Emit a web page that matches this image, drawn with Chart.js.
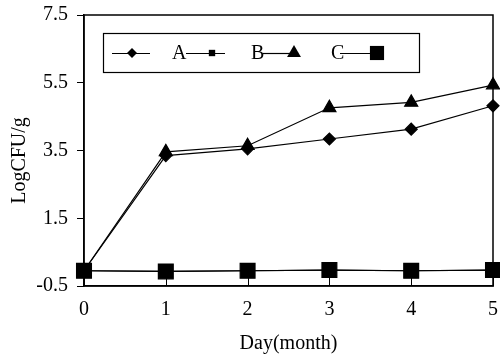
<!DOCTYPE html>
<html>
<head>
<meta charset="utf-8">
<script src="https://cdn.jsdelivr.net/npm/chart.js@4.4.0/dist/chart.umd.min.js"></script>
<style>
    html, body { margin: 0; padding: 0; background: #fff; }
    #wrap { width: 500px; height: 356px; }
</style>
</head>
<body>
<div id="wrap"><canvas id="chart"></canvas></div>
<script>
// Data
const days = [0, 1, 2, 3, 4, 5];
const seriesA = [-0.05, 3.35, 3.55, 3.84, 4.13, 4.82];     // diamonds
const seriesB = [-0.05, -0.07, -0.05, -0.03, -0.05, -0.03]; // small squares (under big squares)
const seriesC = [-0.05, 3.46, 3.64, 4.76, 4.92, 5.43];     // triangles
const seriesD = [-0.05, -0.07, -0.05, -0.03, -0.05, -0.03]; // big squares
const legendLabels = ['A', 'B', 'C', ''];
const yTicks = [-0.5, 1.5, 3.5, 5.5, 7.5];

const serif = '"Liberation Serif", "Times New Roman", serif';

function pts(values) {
    return days.map((d, i) => ({ x: d, y: values[i] }));
}

// simple marker drawing used by the legend
function drawMarker(ctx, style, x, y, r) {
    ctx.beginPath();
    if (style === 'rectRot') {
        ctx.moveTo(x, y - r); ctx.lineTo(x + r, y); ctx.lineTo(x, y + r); ctx.lineTo(x - r, y);
    } else if (style === 'triangle') {
        ctx.moveTo(x, y - r); ctx.lineTo(x + r * 0.866, y + r / 2); ctx.lineTo(x - r * 0.866, y + r / 2);
    } else {
        const s = r * Math.SQRT1_2;
        ctx.rect(x - s, y - s, 2 * s, 2 * s);
    }
    ctx.closePath();
    ctx.fill();
}

// frame, inward x ticks and boxed legend
const framePlugin = {
    id: 'frame',
    afterDraw(chart) {
        const ctx = chart.ctx;
        const a = chart.chartArea;
        const xs = chart.scales.x;
        ctx.save();
        ctx.strokeStyle = '#000';
        ctx.fillStyle = '#000';
        ctx.lineWidth = 1.5;
        ctx.strokeRect(a.left, a.top, a.right - a.left, a.bottom - a.top);
        ctx.lineWidth = 1;
        days.forEach(d => {
            const px = Math.round(xs.getPixelForValue(d)) + 0.5;
            ctx.beginPath();
            ctx.moveTo(px, a.bottom);
            ctx.lineTo(px, a.bottom - 8);
            ctx.stroke();
        });

        // legend box
        ctx.lineWidth = 1.2;
        ctx.strokeRect(103.5, 33.5, 316, 39);
        const ly = 53;
        const items = [
            { x0: 112, x1: 150, mx: 132, tx: 172 },
            { x0: 186, x1: 225, mx: 212, tx: 251 },
            { x0: 263, x1: 294, mx: 294, tx: 331 },
            { x0: 340, x1: 377, mx: 377, tx: null }
        ];
        const sizes = [5, 4.5, 8, 10];
        ctx.font = '20px ' + serif;
        ctx.textBaseline = 'middle';
        chart.data.datasets.forEach((ds, i) => {
            const it = items[i];
            ctx.beginPath();
            ctx.moveTo(it.x0, ly + 0.5);
            ctx.lineTo(it.x1, ly + 0.5);
            ctx.stroke();
            drawMarker(ctx, ds.pointStyle, it.mx, ly, sizes[i]);
            if (it.tx !== null) ctx.fillText(legendLabels[i], it.tx, ly + 1);
        });
        ctx.restore();
    }
};

const line = {
    borderColor: '#000',
    backgroundColor: '#000',
    pointBackgroundColor: '#000',
    pointBorderColor: '#000',
    borderWidth: 1.2,
    tension: 0,
    clip: 12
};

new Chart(document.getElementById('chart'), {
    type: 'line',
    data: {
        datasets: [
            { ...line, label: legendLabels[0], data: pts(seriesA), pointStyle: 'rectRot', pointRadius: 6, order: 1 },
            { ...line, label: legendLabels[1], data: pts(seriesB), pointStyle: 'rect', pointRadius: 5, order: 4 },
            { ...line, label: legendLabels[2], data: pts(seriesC), pointStyle: 'triangle', pointRadius: 7.5, order: 2 },
            { ...line, label: legendLabels[3], data: pts(seriesD), pointStyle: 'rect', pointRadius: 10.5, order: 3 }
        ]
    },
    options: {
        responsive: true,
        maintainAspectRatio: false,
        animation: false,
        layout: { autoPadding: false, padding: { top: 15, right: 0, left: 0, bottom: 0 } },
        plugins: {
            legend: { display: false },
            tooltip: { enabled: false }
        },
        scales: {
            x: {
                type: 'linear',
                min: 0,
                max: 5,
                afterFit: s => { s.height = 70; s.paddingRight = 7; s.paddingLeft = 0; },
                border: { display: true, color: '#000', width: 1.5 },
                grid: { drawOnChartArea: false, drawTicks: false },
                ticks: {
                    stepSize: 1,
                    color: '#000',
                    padding: 12,
                    font: { family: serif, size: 20 }
                },
                title: {
                    display: true,
                    text: 'Day(month)',
                    color: '#000',
                    padding: { top: 0, bottom: 0 },
                    font: { family: serif, size: 20 }
                }
            },
            y: {
                min: -0.5,
                max: 7.5,
                afterFit: s => { s.width = 84; s.paddingTop = 0; s.paddingBottom = 0; },
                afterBuildTicks: s => { s.ticks = yTicks.map(v => ({ value: v })); },
                border: { display: true, color: '#000', width: 1.5 },
                grid: { drawOnChartArea: false, drawTicks: true, tickLength: 7, color: '#000' },
                ticks: {
                    color: '#000',
                    padding: 9,
                    font: { family: serif, size: 20 },
                    callback: v => v.toFixed(1)
                },
                title: {
                    display: true,
                    text: 'LogCFU/g    ',
                    color: '#000',
                    padding: { top: 8, bottom: 0 },
                    font: { family: serif, size: 20 }
                }
            }
        }
    },
    plugins: [framePlugin]
});
</script>
</body>
</html>
